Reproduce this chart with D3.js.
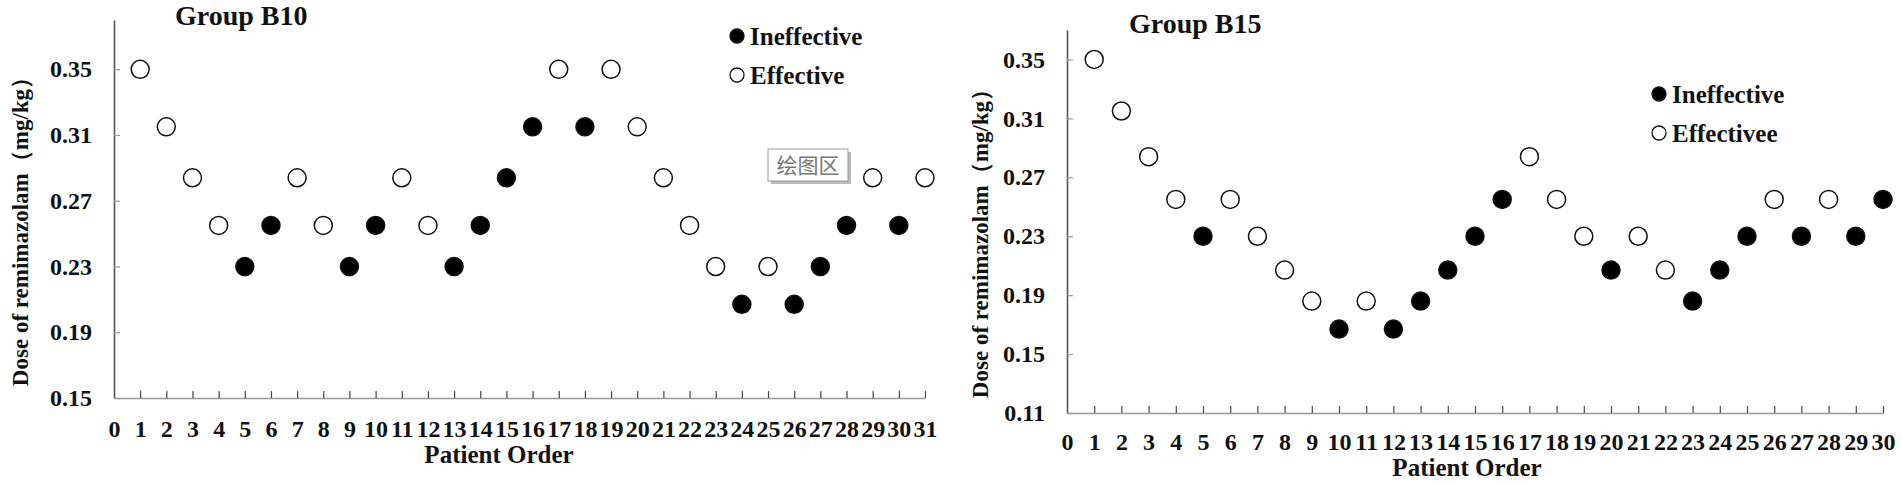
<!DOCTYPE html>
<html><head><meta charset="utf-8">
<script src="https://cdn.jsdelivr.net/npm/d3@7"></script>
<style>
html,body{margin:0;padding:0;background:#fff;}
text{font-family:"Liberation Serif","Times New Roman",serif;font-weight:bold;fill:#111;}
</style></head>
<body>
<svg id="c" width="1902" height="484"></svg>
<script>
// ---- data ----
const yTicks = [0.15, 0.19, 0.23, 0.27, 0.31, 0.35];
const yTicksB15 = [0.11, 0.15, 0.19, 0.23, 0.27, 0.31, 0.35];
const patientsB10 = d3.range(1, 32);
const doseB10 = [0.35,0.315,0.284,0.255,0.23,0.255,0.284,0.255,0.23,0.255,0.284,0.255,0.23,0.255,0.284,0.315,0.35,0.315,0.35,0.315,0.284,0.255,0.23,0.207,0.23,0.207,0.23,0.255,0.284,0.255,0.284];
// 1 = ineffective, 0 = effective
const ineffB10 = [0,0,0,0,1,1,0,0,1,1,0,0,1,1,1,1,0,1,0,0,0,0,0,1,0,1,1,1,0,1,0];
const patientsB15 = d3.range(1, 31);
const doseB15 = [0.35,0.315,0.284,0.255,0.23,0.255,0.23,0.207,0.186,0.167,0.186,0.167,0.186,0.207,0.23,0.255,0.284,0.255,0.23,0.207,0.23,0.207,0.186,0.207,0.23,0.255,0.23,0.255,0.23,0.255];
const ineffB15 = [0,0,0,0,1,0,0,0,0,1,0,1,1,1,1,1,0,0,0,1,0,0,1,1,1,0,1,0,1,1];
const legendB10 = ["Ineffective", "Effective"];
const legendB15 = ["Ineffective", "Effectivee"];

const svg = d3.select("#c");

function panel(cfg) {
  const x = d3.scaleLinear().domain([0, cfg.n]).range([cfg.x0, cfg.x1]);
  const y = d3.scaleLinear().domain(cfg.yDom).range([cfg.y0, cfg.y1]);
  const g = svg.append("g");

  // y axis
  const ya = g.append("g").attr("transform", `translate(${cfg.x0},0)`)
    .call(d3.axisLeft(y).tickValues(cfg.yTicks).tickFormat(d3.format(".2f"))
      .tickSize(-6).tickSizeOuter(0).tickPadding(22));
  ya.select(".domain").attr("stroke", "#555").attr("stroke-width", 1.6);
  ya.selectAll(".tick line").attr("stroke", "#999").attr("stroke-width", 1.2);
  ya.selectAll(".tick text").style("font-size", "24px").attr("fill", "#111");

  // x axis
  const xa = g.append("g").attr("transform", `translate(0,${cfg.y0})`)
    .call(d3.axisBottom(x).tickValues(d3.range(0, cfg.n + 1)).tickFormat(d3.format("d"))
      .tickSize(-7).tickSizeOuter(0).tickPadding(cfg.xPad));
  xa.select(".domain").attr("stroke", "#999").attr("stroke-width", 1.6);
  xa.selectAll(".tick line").attr("stroke", "#444").attr("stroke-width", 1.2);
  xa.selectAll(".tick text").style("font-size", "24px").attr("fill", "#111");
  xa.select(".tick line").remove();

  // points
  g.selectAll("circle.pt").data(cfg.pat).join("circle").attr("class", "pt")
    .attr("cx", (d) => x(d))
    .attr("cy", (d, i) => y(cfg.dose[i]))
    .attr("r", 9)
    .attr("fill", (d, i) => cfg.ineff[i] ? "#000" : "#fff")
    .attr("stroke", "#111").attr("stroke-width", 1.5);

  // title
  g.append("text").attr("x", cfg.tx).attr("y", cfg.ty).style("font-size", "28px").text(cfg.title);

  // axis titles
  g.append("text").attr("x", cfg.pox).attr("y", cfg.poy).attr("text-anchor", "middle")
    .style("font-size", "25px").text("Patient Order");
  g.append("text").attr("transform", `translate(${cfg.ylx},${cfg.yly}) rotate(-90)`)
    .attr("text-anchor", "middle").attr("dy", "0.35em")
    .style("font-size", "23px").text("Dose of remimazolam（mg/kg）");

  // legend
  cfg.legend.forEach((t, i) => {
    const cy = cfg.ly + i * cfg.lgap;
    g.append("circle").attr("cx", cfg.lx).attr("cy", cy).attr("r", 7)
      .attr("fill", i === 0 ? "#000" : "#fff").attr("stroke", "#111").attr("stroke-width", 1.3);
    g.append("text").attr("x", cfg.lx + 13).attr("y", cy).attr("dy", "0.35em")
      .style("font-size", "25px").text(t);
  });
  return g;
}

panel({n: 31, x0: 114, x1: 925, y0: 398, y1: 20, yDom: [0.15, 0.38], yTicks: yTicks,
  pat: patientsB10, dose: doseB10, ineff: ineffB10, xPad: 22,
  title: "Group B10", tx: 175, ty: 25, pox: 499, poy: 463, ylx: 20, yly: 226,
  legend: legendB10, lx: 737, ly: 36, lgap: 39});

panel({n: 30, x0: 1067, x1: 1883, y0: 413, y1: 30, yDom: [0.11, 0.37], yTicks: yTicksB15,
  pat: patientsB15, dose: doseB15, ineff: ineffB15, xPad: 20,
  title: "Group B15", tx: 1129, ty: 33, pox: 1467, poy: 476, ylx: 980, yly: 238,
  legend: legendB15, lx: 1659, ly: 94, lgap: 39});

// Excel "plot area" tooltip artifact
const tip = svg.append("g");
tip.append("rect").attr("x", 771).attr("y", 152).attr("width", 80).attr("height", 32).attr("fill", "#bbb");
tip.append("rect").attr("x", 768).attr("y", 149).attr("width", 80).attr("height", 32)
  .attr("fill", "#fff").attr("stroke", "#999").attr("stroke-width", 1);
tip.append("text").attr("x", 808).attr("y", 166).attr("dy", "0.35em").attr("text-anchor", "middle")
  .style("font-family", "'Noto Sans CJK SC'").style("font-weight", "normal").style("font-size", "21px")
  .attr("fill", "#777").style("fill", "#777").text("绘图区");
</script>
</body></html>
